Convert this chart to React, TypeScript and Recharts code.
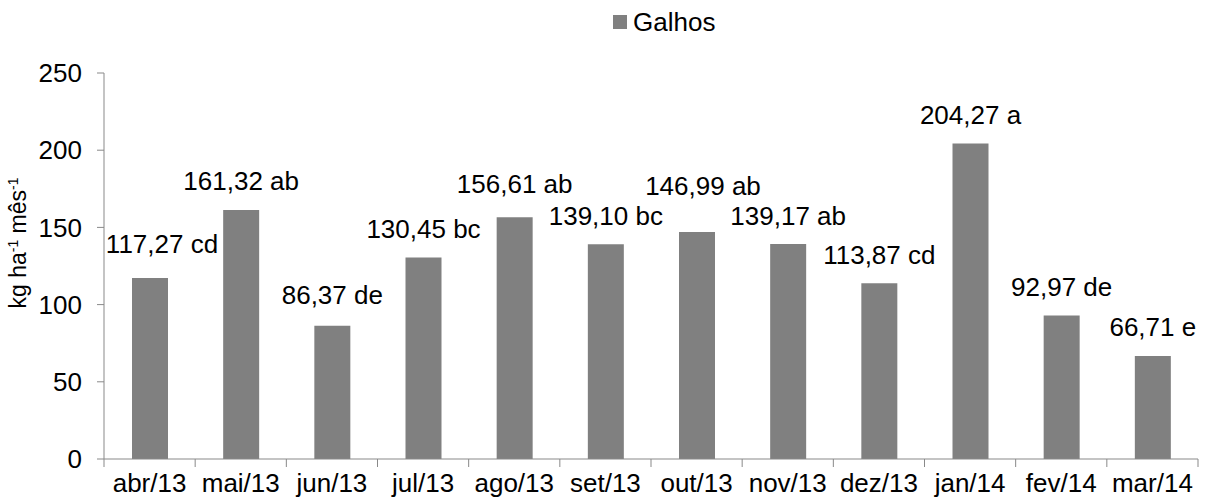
import { BarChart, Bar, XAxis, YAxis, Legend, LabelList, Label } from 'recharts';

const months = ['abr/13', 'mai/13', 'jun/13', 'jul/13', 'ago/13', 'set/13', 'out/13', 'nov/13', 'dez/13', 'jan/14', 'fev/14', 'mar/14'];
const galhos = [117.27, 161.32, 86.37, 130.45, 156.61, 139.1, 146.99, 139.17, 113.87, 204.27, 92.97, 66.71];
const letters = ['cd', 'ab', 'de', 'bc', 'ab', 'bc', 'ab', 'ab', 'cd', 'a', 'de', 'e'];
const yTicks = [0, 50, 100, 150, 200, 250];

const data = months.map((m, i) => ({
  month: m,
  galhos: galhos[i],
  label: `${galhos[i].toFixed(2).replace('.', ',')} ${letters[i]}`,
}));

// the original has a few labels dragged by hand
const labelNudge: [number, number][] = [
  [12, -5], [0, 0], [0, -2], [0, 0], [0, -5], [0, 0],
  [6, -18], [0, 0], [0, 0], [0, 0], [0, 0], [0, 0],
];

const W = 1206;
const H = 499;
const margin = { top: 73, right: 8, bottom: 0, left: 0 };
const yAxisW = 104;
const xAxisH = 40;
const band = (W - margin.left - margin.right - yAxisW) / months.length;

const FONT = '"Liberation Sans", Arial, sans-serif';
const FS = 26;
const AXIS = '#898989';
const BAR = '#808080';

const MonthTick = (props: any) => {
  const { x, y, payload, index } = props;
  return (
    <g>
      <line x1={x - band / 2} x2={x - band / 2} y1={y} y2={y + 8} stroke={AXIS} />
      {index === months.length - 1 && (
        <line x1={x + band / 2} x2={x + band / 2} y1={y} y2={y + 8} stroke={AXIS} />
      )}
      <text x={x} y={y + 33} textAnchor="middle" fill="#000" fontSize={FS} fontFamily={FONT}>
        {payload.value}
      </text>
    </g>
  );
};

const ValueLabel = (props: any) => {
  const { x, y, width, value, index } = props;
  const [dx, dy] = labelNudge[index] || [0, 0];
  return (
    <text x={x + width / 2 + dx} y={y - 19.5 + dy} textAnchor="middle" fill="#000" fontSize={FS} fontFamily={FONT}>
      {value}
    </text>
  );
};

const YTitle = () => (
  <text transform="translate(26,243) rotate(-90)" textAnchor="middle" fill="#000" fontSize={23} fontFamily={FONT}>
    kg ha
    <tspan dy={-8} fontSize={14}>-1</tspan>
    <tspan dy={8}> mês</tspan>
    <tspan dy={-8} fontSize={14}>-1</tspan>
  </text>
);

const renderLegend = () => (
  <div style={{ display: 'flex', alignItems: 'center', fontFamily: FONT, fontSize: FS, color: '#000' }}>
    <span style={{ width: 14, height: 14, background: BAR, marginRight: 6, marginTop: -2, display: 'inline-block' }} />
    Galhos
  </div>
);

export default function App() {
  return (
    <div style={{ position: 'absolute', left: 0, top: 0, background: '#fff' }}>
      <BarChart width={W} height={H} data={data} margin={margin}>
        <XAxis
          dataKey="month"
          height={xAxisH}
          axisLine={{ stroke: AXIS }}
          tickLine={false}
          tickSize={0}
          tickMargin={0}
          interval={0}
          tick={<MonthTick />}
        />
        <YAxis
          width={yAxisW}
          domain={[0, 250]}
          ticks={yTicks}
          interval={0}
          axisLine={{ stroke: AXIS }}
          tickLine={{ stroke: AXIS }}
          tickSize={7}
          tickMargin={15}
          tick={{ fill: '#000', fontSize: FS, fontFamily: FONT }}
        >
          <Label content={<YTitle />} />
        </YAxis>
        <Legend
          verticalAlign="middle"
          layout="horizontal"
          content={renderLegend}
          wrapperStyle={{ top: 7, left: 613, width: 'auto', height: 'auto' }}
        />
        <Bar dataKey="galhos" name="Galhos" fill={BAR} barSize={36} isAnimationActive={false}>
          <LabelList dataKey="label" content={<ValueLabel />} />
        </Bar>
      </BarChart>
    </div>
  );
}
